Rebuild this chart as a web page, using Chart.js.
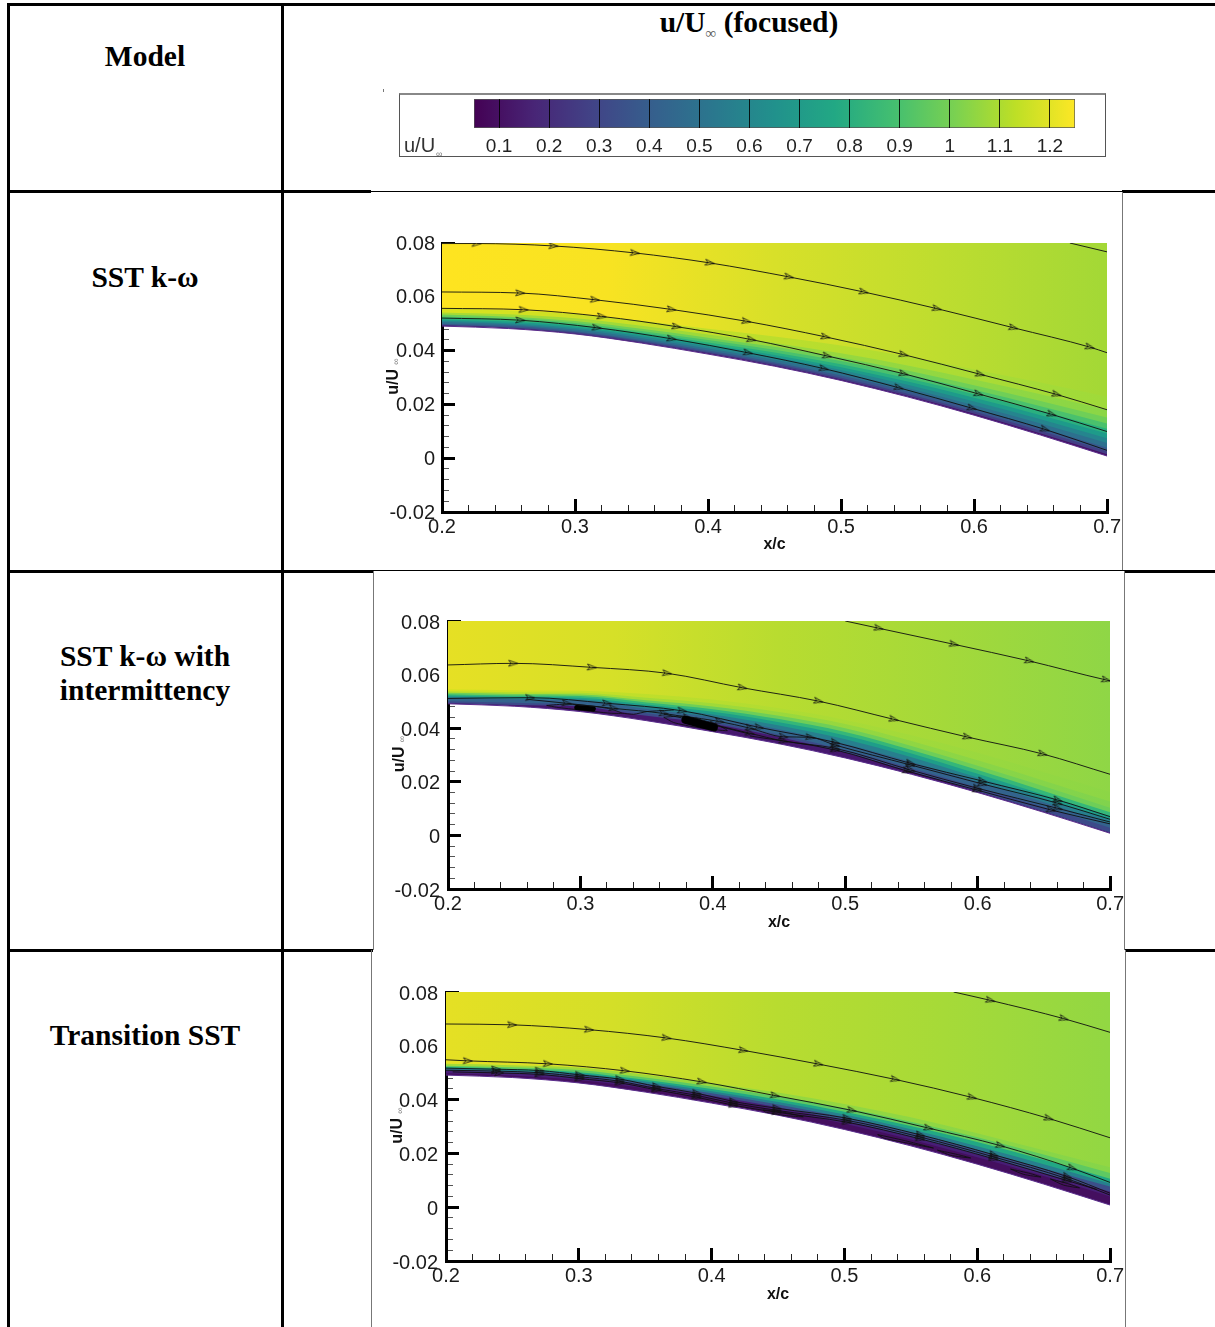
<!DOCTYPE html>
<html>
<head>
<meta charset="utf-8">
<title>u/U (focused)</title>
<script src="https://cdn.jsdelivr.net/npm/chart.js@4"></script>
<style>
html, body { margin: 0; padding: 0; background: #fff; }
#page { position: relative; width: 1215px; height: 1327px; overflow: hidden; }
#page canvas { position: absolute; display: block; }
.k { position: absolute; background: #000; }
.g { position: absolute; background: #777; }
.label { position: absolute; left: 9px; width: 272px; text-align: center; font: bold 29.5px/34px "Liberation Serif", serif; color: #000; }
.inf { font-size: 15px; color: #555; position: relative; top: 6px; }
</style>
</head>
<body>
<div id="page">
  <div class="k" style="left:7px;top:3px;width:1208px;height:3px"></div>
  <div class="k" style="left:7px;top:3px;width:3px;height:1324px"></div>
  <div class="k" style="left:281px;top:3px;width:3px;height:1324px"></div>
  <div class="k" style="left:7px;top:190px;width:364px;height:3px"></div>
  <div class="k" style="left:371px;top:191px;width:751px;height:1px"></div>
  <div class="k" style="left:1122px;top:190px;width:93px;height:3px"></div>
  <div class="k" style="left:7px;top:570px;width:366px;height:3px"></div>
  <div class="k" style="left:373px;top:570px;width:751px;height:1px"></div>
  <div class="k" style="left:1124px;top:570px;width:91px;height:3px"></div>
  <div class="k" style="left:7px;top:949px;width:366px;height:3px"></div>
  <div class="k" style="left:1125px;top:949px;width:90px;height:3px"></div>
  <div class="g" style="left:1122px;top:192px;width:1px;height:378px"></div>
  <div class="g" style="left:373px;top:571px;width:1px;height:379px"></div>
  <div class="g" style="left:1124px;top:571px;width:1px;height:379px"></div>
  <div class="g" style="left:371px;top:950px;width:1px;height:377px"></div>
  <div class="g" style="left:1125px;top:950px;width:1px;height:377px"></div>

  <div class="label" style="top:39px">Model</div>
  <div class="label" style="top:260px">SST k-ω</div>
  <div class="label" style="top:639px">SST k-ω with<br>intermittency</div>
  <div class="label" style="top:1018px">Transition SST</div>
  <div class="label" style="left:600px;width:298px;top:5px">u/U<span class="inf">∞</span> (focused)</div>

  <div class="g" style="left:383px;top:89px;width:1px;height:3px"></div>
  <div style="position:absolute;left:399px;top:93px;width:705px;height:61px;border:1px solid #555;border-top:2px solid #888;box-sizing:content-box"></div>
  <canvas id="colorbar" width="704" height="60" style="left:401px;top:95px"></canvas>
  <span style="position:absolute;left:404px;top:134px;font:20px 'Liberation Sans',sans-serif;color:#333">u/U</span>
  <span style="position:absolute;left:436px;top:149px;font:9px 'Liberation Sans',sans-serif;color:#777">∞</span>

  <canvas id="panel1" width="764" height="378" style="left:373px;top:192px"></canvas>
  <canvas id="panel2" width="766" height="378" style="left:374px;top:572px"></canvas>
  <canvas id="panel3" width="768" height="376" style="left:372px;top:951px"></canvas>
</div>

<script>
// Legend
const colorbarTicks = [0.1, 0.2, 0.3, 0.4, 0.5, 0.6, 0.7, 0.8, 0.9, 1, 1.1, 1.2];
const colorbarRange = [0.05, 1.25];
const colorbarColors = ['#440154', '#482576', '#414487', '#35608d', '#2a788e', '#21918c', '#22a884', '#44bf70', '#7ad151', '#bddf26', '#fde725'];

// Axis ticks
const xMajorTicks = [0.2, 0.3, 0.4, 0.5, 0.6, 0.7];
const xMinorTicks = [0.22, 0.24, 0.26, 0.28, 0.32, 0.34, 0.36, 0.38, 0.42, 0.44, 0.46, 0.48, 0.52, 0.54, 0.56, 0.58, 0.62, 0.64, 0.66, 0.68];
const yMajorTicks = [-0.02, 0, 0.02, 0.04, 0.06, 0.08];
const yMinorTicks = [-0.016, -0.012, -0.008, -0.004, 0.004, 0.008, 0.012, 0.016, 0.024, 0.028, 0.032, 0.036, 0.044, 0.048, 0.052, 0.056, 0.064, 0.068, 0.072, 0.076];

// Airfoil upper surface, read at these x/c stations
const stations = [0.2, 0.25, 0.3, 0.35, 0.4, 0.45, 0.5, 0.55, 0.6, 0.65, 0.7];
const surface = [0.0491, 0.0482, 0.0462, 0.0428, 0.0387, 0.0342, 0.0289, 0.0228, 0.016, 0.0086, 0.0008];

// Height of each velocity contour above the surface, in 1e-3 of y/c, per station
const p1Levels = [
    [0.2, 0.2, 0.2, 0.25, 0.3, 0.3, 0.4, 0.45, 0.5, 0.6, 0.7],
    [0.5, 0.5, 0.6, 0.7, 0.75, 0.9, 1.0, 1.2, 1.4, 1.6, 1.8],
    [0.9, 1.0, 1.0, 1.1, 1.3, 1.5, 1.8, 2.1, 2.4, 2.7, 3.1],
    [1.5, 1.5, 1.6, 1.8, 2.1, 2.4, 2.9, 3.3, 3.7, 4.3, 4.8],
    [2.0, 2.0, 2.2, 2.5, 2.8, 3.3, 3.9, 4.5, 5.1, 5.9, 6.6],
    [2.5, 2.6, 2.8, 3.1, 3.6, 4.2, 4.9, 5.7, 6.5, 7.4, 8.4],
    [3.0, 3.1, 3.4, 3.8, 4.3, 5.1, 6.0, 6.9, 7.8, 9.0, 10.1],
    [3.6, 3.7, 4.1, 4.5, 5.2, 6.1, 7.2, 8.3, 9.4, 10.7, 12.1],
    [4.3, 4.4, 4.8, 5.3, 6.1, 7.2, 8.5, 9.8, 11.1, 12.7, 14.3],
    [5.1, 5.3, 5.8, 6.4, 7.3, 8.6, 10.1, 11.7, 13.3, 15.2, 17.2],
    [6.6, 6.8, 7.4, 8.2, 9.4, 11, 13, 15, 17, 19.5, 22]
];
const p2Levels = [
    [0.3, 0.5, 1.9, 1.8, 3.0, 2.5, 2.0, 1.0, 0.4, 0.3, 0.3],
    [1.0, 1.3, 2.4, 2.8, 3.6, 3.4, 3.0, 2.3, 1.9, 2.0, 2.0],
    [2.2, 2.6, 4.0, 4.4, 5.4, 5.4, 5.2, 4.6, 4.0, 3.8, 3.6],
    [2.6, 3.0, 4.6, 5.2, 6.4, 6.8, 7.0, 6.4, 5.6, 5.3, 5.0],
    [3.1, 3.5, 5.2, 6.0, 7.4, 8.0, 8.4, 7.8, 7.0, 6.6, 6.4],
    [3.6, 4.0, 5.8, 6.8, 8.4, 9.2, 9.7, 9.1, 8.4, 8.0, 7.8],
    [4.1, 4.6, 6.4, 7.6, 9.4, 10.4, 11.1, 10.6, 10.0, 9.7, 9.5],
    [4.7, 5.2, 7.0, 8.6, 10.6, 11.8, 12.7, 12.4, 12.0, 11.8, 11.8],
    [5.4, 6.0, 7.8, 10, 12, 13.2, 14.2, 14.6, 14.8, 15, 15.4]
];
const p3Levels = [
    [0.7, 0.8, 1.1, 1.4, 1.7, 1.9, 2.1, 2.4, 2.6, 3.0, 3.2],
    [1.6, 1.7, 2.1, 2.4, 2.7, 3.0, 3.2, 3.5, 3.7, 4.0, 5.0],
    [2.2, 2.3, 2.9, 3.2, 3.7, 4.0, 4.5, 5.0, 5.3, 5.8, 6.9],
    [2.6, 2.8, 3.5, 3.9, 4.4, 4.9, 5.6, 6.2, 6.7, 7.4, 8.0],
    [3.0, 3.2, 4.0, 4.6, 5.2, 5.8, 6.6, 7.4, 8.2, 9.0, 9.8],
    [3.5, 3.8, 4.8, 5.4, 6.2, 7.0, 8.0, 9.0, 10, 11, 11.9],
    [4.2, 4.6, 5.7, 6.4, 7.4, 8.4, 9.5, 10.6, 11.5, 12.6, 14]
];

// Streamlines, [x/c, y/c]; arrow heads sit on the inner points
const p1Streams = [
    [[0.672, 0.08], [0.7, 0.0767]],
    [[0.2, 0.0798], [0.226, 0.0798], [0.2838, 0.0789], [0.345, 0.0763], [0.4013, 0.0726], [0.4608, 0.0674], [0.517, 0.0618], [0.572, 0.0556], [0.6295, 0.0485], [0.687, 0.0413], [0.7, 0.0392]],
    [[0.2, 0.0618], [0.2588, 0.0614], [0.315, 0.0589], [0.3725, 0.0553], [0.4288, 0.0509], [0.4883, 0.0451], [0.547, 0.0385], [0.6045, 0.0312], [0.662, 0.0237], [0.7, 0.018]],
    [[0.2, 0.0557], [0.2613, 0.0552], [0.32, 0.0527], [0.3763, 0.0489], [0.4325, 0.0441], [0.4895, 0.038], [0.547, 0.0314], [0.6033, 0.0239], [0.6583, 0.0163], [0.7, 0.0099]],
    [[0.2, 0.0521], [0.2588, 0.0513], [0.3163, 0.0485], [0.3725, 0.0444], [0.43, 0.0392], [0.487, 0.0333], [0.5433, 0.0262], [0.5983, 0.0186], [0.6533, 0.0107], [0.7, 0.0029]]
];
const p2Streams = [
    [[0.5, 0.08], [0.5253, 0.0773], [0.5821, 0.0713], [0.6389, 0.0651], [0.697, 0.058], [0.7, 0.0577]],
    [[0.2, 0.0636], [0.2492, 0.0642], [0.3086, 0.0627], [0.3654, 0.0605], [0.4222, 0.0551], [0.4798, 0.0501], [0.5366, 0.0433], [0.5922, 0.0367], [0.649, 0.0304], [0.7, 0.0228]],
    [[0.2, 0.0511], [0.2619, 0.0514], [0.32, 0.0493], [0.3768, 0.0465], [0.4349, 0.0403], [0.4924, 0.0347], [0.5492, 0.0269], [0.6035, 0.0203], [0.6604, 0.0132], [0.7, 0.007]],
    [[0.2593, 0.0508], [0.2896, 0.0493], [0.325, 0.0474], [0.3629, 0.0455], [0.3806, 0.044], [0.4008, 0.0412], [0.428, 0.0378]],
    [[0.378, 0.0445], [0.405, 0.0425], [0.428, 0.04], [0.4533, 0.0368], [0.4735, 0.0366], [0.4924, 0.0337], [0.5492, 0.0263], [0.6035, 0.0192], [0.6604, 0.012], [0.7, 0.006]],
    [[0.3629, 0.0452], [0.39, 0.0425], [0.428, 0.0381], [0.4533, 0.0352], [0.4924, 0.0325], [0.5492, 0.0244], [0.5997, 0.0176], [0.6604, 0.0101], [0.7, 0.005]],
    [[0.428, 0.0371], [0.4924, 0.0319], [0.5467, 0.024], [0.5997, 0.0169], [0.6553, 0.0095], [0.7, 0.0043]]
];
const p3Streams = [
    [[0.5822, 0.08], [0.6098, 0.0769], [0.6651, 0.0701], [0.7, 0.065]],
    [[0.2, 0.0681], [0.2498, 0.0678], [0.3077, 0.066], [0.366, 0.0629], [0.4239, 0.0583], [0.4804, 0.0532], [0.5382, 0.0475], [0.596, 0.0408], [0.6538, 0.033], [0.7, 0.0258]],
    [[0.2, 0.0548], [0.2164, 0.0544], [0.2767, 0.0533], [0.3346, 0.0507], [0.3925, 0.0466], [0.4477, 0.0415], [0.5055, 0.036], [0.5633, 0.0294], [0.6173, 0.0229], [0.6714, 0.0145], [0.7, 0.0092]],
    [[0.2, 0.0517], [0.2377, 0.0513], [0.2704, 0.0508], [0.3006, 0.0492], [0.3308, 0.0476], [0.3585, 0.0449], [0.3887, 0.0424], [0.4164, 0.0393], [0.449, 0.0368], [0.5018, 0.0331], [0.557, 0.0269], [0.6123, 0.0195], [0.6676, 0.0114], [0.7, 0.0052]],
    [[0.2, 0.0509], [0.2377, 0.0506], [0.2704, 0.05], [0.3006, 0.0485], [0.3308, 0.0468], [0.3585, 0.0441], [0.3887, 0.0416], [0.4164, 0.0386], [0.449, 0.036], [0.5018, 0.0323], [0.557, 0.0261], [0.6123, 0.0187], [0.6676, 0.0106], [0.7, 0.0045]],
    [[0.205, 0.0503], [0.24, 0.0499], [0.2704, 0.0494], [0.3006, 0.0478], [0.3308, 0.0462], [0.3585, 0.0436], [0.3887, 0.0409], [0.4164, 0.0379], [0.449, 0.0353], [0.5018, 0.0316], [0.557, 0.0254], [0.6123, 0.018], [0.6676, 0.0099], [0.69, 0.0066]]
];

// Recirculation loops next to the wall, no arrow heads
const p1Loops = [];
const p2Loops = [
    [[0.2745, 0.0485], [0.2896, 0.049], [0.3098, 0.0482], [0.3225, 0.0472], [0.3313, 0.0456], [0.3225, 0.0456], [0.2997, 0.0468], [0.2821, 0.0478], [0.2745, 0.0485]],
    [[0.3313, 0.0456], [0.3402, 0.0452], [0.3503, 0.0462], [0.3705, 0.0468]],
    [[0.3629, 0.0441], [0.378, 0.0445], [0.4008, 0.0418], [0.4109, 0.0391], [0.3881, 0.0403], [0.3705, 0.0421], [0.3629, 0.0441]]
];
const p3Loops = [
    [[0.4389, 0.0362], [0.455, 0.0352], [0.469, 0.0336], [0.455, 0.0341], [0.44, 0.0354], [0.4389, 0.0362]],
    [[0.525, 0.027], [0.545, 0.0248], [0.567, 0.022], [0.55, 0.0236], [0.53, 0.0256], [0.525, 0.027]],
    [[0.57, 0.0212], [0.585, 0.0196], [0.595, 0.0183], [0.58, 0.0193], [0.57, 0.0212]],
    [[0.625, 0.0142], [0.64, 0.0125], [0.648, 0.0112], [0.635, 0.0122], [0.625, 0.0142]],
    [[0.655, 0.0105], [0.668, 0.0088], [0.677, 0.0072], [0.665, 0.0082], [0.655, 0.0105]]
];

// Where many streamlines spiral into one spot and the picture goes solid black
const p1Blobs = [];
const p2Blobs = [
    [[0.2972, 0.0477], [0.3098, 0.0472]],
    [[0.3793, 0.0431], [0.3907, 0.0416], [0.4008, 0.0403]]
];
const p3Blobs = [];

// Colours of the contour bands; a pair runs from the left to the right of the plot
const p1BandColors = ['#471164', '#433e85', '#38588c', '#2d708e', '#25858e', '#1e9b8a', '#2ab07f', '#4ac16d', '#6fcf57', ['#a8db34', '#8bd646'], ['#d9e21f', '#9fda3a']];
const p2BandColors = ['#46186e', '#3c4a89', '#33638d', '#277f8e', '#1f9e89', '#35b779', '#6ece58', ['#b5de2b', '#80d34d'], ['#d5e21f', '#8cd646']];
const p3BandColors = ['#440f5f', '#471e76', '#3c4f8a', '#277f8e', '#22a884', '#5ec962', ['#a5db36', '#86d549']];
const p1Freestream = ['#fee420', '#f8e322', '#d8e029', '#bedd2f', '#a3d836'];
const p2Freestream = ['#e6e024', '#d6e028', '#b8dc30', '#a4d93a', '#8fd646'];
const p3Freestream = ['#e5e024', '#d4df28', '#b8dc30', '#a6da38', '#92d743'];

const sansFont = '"Liberation Sans", Arial, sans-serif';

// Open arrow head used as the point style of the streamlines
function makeArrowHead() {
    const c = document.createElement('canvas');
    c.width = 10;
    c.height = 8;
    const g = c.getContext('2d');
    g.strokeStyle = '#111';
    g.lineWidth = 0.8;
    g.beginPath();
    g.moveTo(0.5, 1);
    g.lineTo(9.5, 4);
    g.lineTo(0.5, 7);
    g.lineTo(3, 4);
    g.closePath();
    g.stroke();
    return c;
}
const arrowHead = makeArrowHead();

function arrowAngle(ctx) {
    const d = ctx.dataset.data;
    const a = d[ctx.dataIndex - 1] || d[ctx.dataIndex];
    const b = d[ctx.dataIndex + 1] || d[ctx.dataIndex];
    const sx = ctx.chart.scales.x;
    const sy = ctx.chart.scales.y;
    return Math.atan2(sy.getPixelForValue(b.y) - sy.getPixelForValue(a.y), sx.getPixelForValue(b.x) - sx.getPixelForValue(a.x)) * 180 / Math.PI;
}

function toPoints(pairs) {
    return pairs.map(p => ({ x: p[0], y: p[1] }));
}

function horizontalGradient(chart, colors) {
    const area = chart.chartArea;
    if (!area) return colors[0];
    const grad = chart.ctx.createLinearGradient(area.left, 0, area.right, 0);
    colors.forEach((c, i) => grad.addColorStop(i / (colors.length - 1), c));
    return grad;
}

function bandFill(color) {
    return Array.isArray(color) ? (ctx => horizontalGradient(ctx.chart, color)) : color;
}

// One dataset per contour: each fills up to the top, the next one paints over it
function buildBands(levels, bandColors, freestream) {
    const bands = [{
        data: toPoints(stations.map((x, i) => [x, surface[i]])),
        fill: 'end',
        backgroundColor: bandFill(bandColors[0]),
        borderColor: '#5a2d8c',
        borderWidth: 1,
        order: 100,
        pointRadius: 0,
        cubicInterpolationMode: 'monotone'
    }];
    levels.forEach((level, k) => {
        const color = k + 1 < bandColors.length ? bandColors[k + 1] : freestream;
        bands.push({
            data: toPoints(stations.map((x, i) => [x, surface[i] + level[i] / 1000])),
            fill: 'end',
            backgroundColor: bandFill(color),
            borderWidth: 0,
            order: 99 - k,
            pointRadius: 0,
            cubicInterpolationMode: 'monotone'
        });
    });
    return bands;
}

function buildStreams(streams) {
    return streams.map(s => ({
        data: toPoints(s),
        borderColor: 'rgba(15,15,15,0.9)',
        borderWidth: 1,
        fill: false,
        order: 1,
        cubicInterpolationMode: 'monotone',
        pointStyle: arrowHead,
        pointRotation: arrowAngle,
        pointRadius: ctx => (ctx.dataIndex === 0 || ctx.dataIndex === ctx.dataset.data.length - 1) ? 0 : 4
    }));
}

function buildLoops(loops) {
    return loops.map(s => ({
        data: toPoints(s),
        borderColor: 'rgba(15,15,15,0.85)',
        borderWidth: 1,
        fill: false,
        order: 1,
        tension: 0.2,
        pointRadius: 0
    }));
}

function buildBlobs(blobs) {
    return blobs.map((s, i) => ({
        data: toPoints(s),
        borderColor: '#000',
        borderWidth: i === 0 ? 5 : 8,
        borderCapStyle: 'round',
        fill: false,
        order: 0,
        pointRadius: 0
    }));
}

const infinityLabel = {
    id: 'infinityLabel',
    afterDraw(chart) {
        const sy = chart.scales.y;
        const ctx = chart.ctx;
        ctx.save();
        ctx.translate(chart.options.yTitleCenter, (sy.top + sy.bottom) / 2 - 16);
        ctx.rotate(-Math.PI / 2);
        ctx.font = '9px ' + sansFont;
        ctx.fillStyle = '#777';
        ctx.textAlign = 'center';
        ctx.textBaseline = 'middle';
        ctx.fillText('∞', 0, 4);
        ctx.restore();
    }
};

function makePanel(id, geo, levels, bandColors, freestream, streams, loops, blobs) {
    const datasets = [
        ...buildBlobs(blobs),
        ...buildStreams(streams),
        ...buildLoops(loops),
        ...buildBands(levels, bandColors, freestream)
    ];
    return new Chart(document.getElementById(id), {
        type: 'line',
        data: { datasets },
        plugins: [infinityLabel],
        options: {
            responsive: false,
            animation: false,
            yTitleCenter: geo.yAxisWidth - geo.titleOffset,
            layout: { autoPadding: false, padding: { left: 0, top: geo.top, right: geo.right, bottom: 0 } },
            plugins: { legend: { display: false }, tooltip: { enabled: false } },
            scales: {
                x: {
                    type: 'linear',
                    min: 0.2,
                    max: 0.7,
                    weight: 1,
                    afterBuildTicks: s => { s.ticks = xMajorTicks.map(v => ({ value: v })); },
                    afterFit: s => { s.height = geo.xAxisHeight; },
                    border: { color: '#000', width: 3 },
                    grid: { drawOnChartArea: false, tickLength: -13, tickWidth: 3, tickColor: '#000' },
                    ticks: {
                        color: '#1a1a1a',
                        font: { family: sansFont, size: 20 },
                        padding: 16,
                        autoSkip: false,
                        maxRotation: 0,
                        callback: v => String(v)
                    },
                    title: {
                        display: true,
                        text: 'x/c',
                        color: '#111',
                        font: { family: sansFont, size: 16, weight: 'bold' },
                        padding: { top: 0, bottom: geo.titleBottom }
                    }
                },
                xMinor: {
                    type: 'linear',
                    axis: 'x',
                    position: 'bottom',
                    min: 0.2,
                    max: 0.7,
                    weight: 0,
                    afterBuildTicks: s => { s.ticks = xMinorTicks.map(v => ({ value: v })); },
                    afterFit: s => { s.height = 0; },
                    border: { display: false },
                    grid: { drawOnChartArea: false, tickLength: -7, tickWidth: 1, tickColor: '#222' },
                    ticks: { display: false }
                },
                y: {
                    type: 'linear',
                    position: 'left',
                    min: -0.02,
                    max: 0.08,
                    weight: 1,
                    afterBuildTicks: s => { s.ticks = yMajorTicks.map(v => ({ value: v })); },
                    afterFit: s => { s.width = geo.yAxisWidth; },
                    border: { color: '#000', width: 3 },
                    grid: { drawOnChartArea: false, tickLength: -13, tickWidth: 3, tickColor: '#000' },
                    ticks: {
                        color: '#1a1a1a',
                        font: { family: sansFont, size: 20 },
                        padding: geo.yLabelPad,
                        labelOffset: geo.yLabelShift,
                        autoSkip: false,
                        callback: v => String(v)
                    },
                    title: {
                        display: true,
                        text: 'u/U  ',
                        color: '#111',
                        font: { family: sansFont, size: 16, weight: 'bold' },
                        padding: { top: geo.yAxisWidth - geo.titleOffset - 9, bottom: 0 }
                    }
                },
                yMinor: {
                    type: 'linear',
                    axis: 'y',
                    position: 'left',
                    min: -0.02,
                    max: 0.08,
                    weight: 0,
                    afterBuildTicks: s => { s.ticks = yMinorTicks.map(v => ({ value: v })); },
                    afterFit: s => { s.width = 0; },
                    border: { display: false },
                    grid: { drawOnChartArea: false, tickLength: -7, tickWidth: 1, tickColor: '#555' },
                    ticks: { display: false }
                }
            }
        }
    });
}

function makeColorbar() {
    return new Chart(document.getElementById('colorbar'), {
        type: 'bar',
        data: {
            labels: ['u/U'],
            datasets: [{
                data: [colorbarRange],
                barPercentage: 1,
                categoryPercentage: 1,
                backgroundColor: ctx => horizontalGradient(ctx.chart, colorbarColors),
                borderColor: '#555',
                borderWidth: 1,
                borderSkipped: false
            }]
        },
        options: {
            indexAxis: 'y',
            responsive: false,
            animation: false,
            layout: { autoPadding: false, padding: { left: 73, right: 30, top: 4, bottom: 0 } },
            plugins: { legend: { display: false }, tooltip: { enabled: false } },
            scales: {
                x: {
                    type: 'linear',
                    min: colorbarRange[0],
                    max: colorbarRange[1],
                    afterBuildTicks: s => { s.ticks = colorbarTicks.map(v => ({ value: v })); },
                    afterFit: s => { s.height = 27; },
                    border: { display: false },
                    grid: { color: 'rgba(0,0,0,0.85)', lineWidth: 1, drawTicks: false, z: 1 },
                    ticks: {
                        color: '#222',
                        font: { family: sansFont, size: 19 },
                        padding: 7,
                        autoSkip: false,
                        maxRotation: 0,
                        callback: v => String(v)
                    }
                },
                y: { display: false }
            }
        }
    });
}

makeColorbar();
makePanel('panel1', { top: 51, right: 14, xAxisHeight: 58, yAxisWidth: 69, titleOffset: 49, titleBottom: 16, yLabelPad: 20, yLabelShift: 1 }, p1Levels, p1BandColors, p1Freestream, p1Streams, p1Loops, p1Blobs);
makePanel('panel2', { top: 49, right: 13, xAxisHeight: 61, yAxisWidth: 74, titleOffset: 49, titleBottom: 18, yLabelPad: 21, yLabelShift: 2 }, p2Levels, p2BandColors, p2Freestream, p2Streams, p2Loops, p2Blobs);
makePanel('panel3', { top: 41, right: 14, xAxisHeight: 66, yAxisWidth: 74, titleOffset: 49, titleBottom: 23, yLabelPad: 21, yLabelShift: 2 }, p3Levels, p3BandColors, p3Freestream, p3Streams, p3Loops, p3Blobs);
</script>
</body>
</html>
